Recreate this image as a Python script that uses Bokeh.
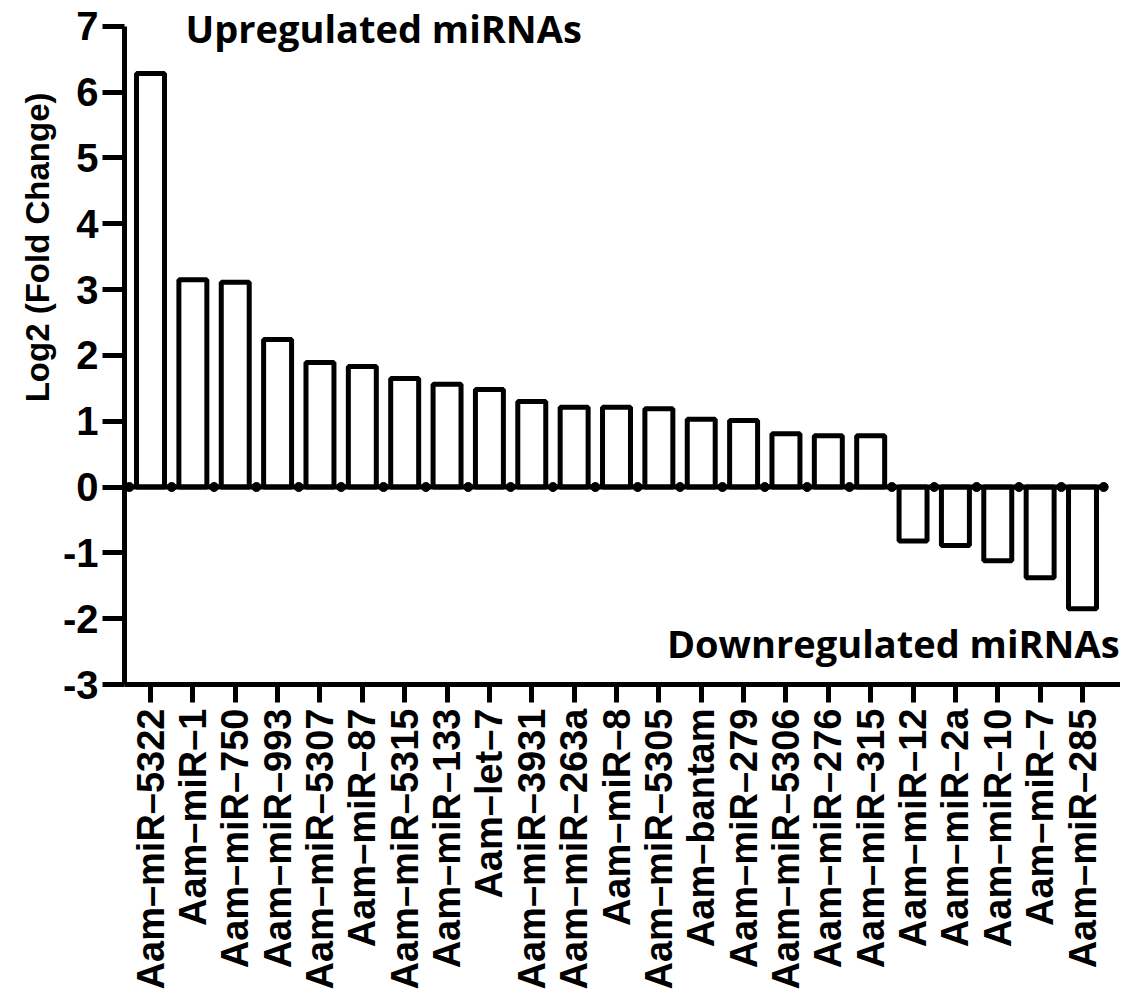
from bokeh.plotting import figure
from bokeh.models import Range1d, FixedTicker, Label, ColumnDataSource, Title
from bokeh.embed import file_html
from bokeh.resources import INLINE
import math

mirnas = ["Aam–miR–5322", "Aam–miR–1", "Aam–miR–750", "Aam–miR–993", "Aam–miR–5307",
          "Aam–miR–87", "Aam–miR–5315", "Aam–miR–133", "Aam–let–7", "Aam–miR–3931",
          "Aam–miR–263a", "Aam–miR–8", "Aam–miR–5305", "Aam–bantam", "Aam–miR–279",
          "Aam–miR–5306", "Aam–miR–276", "Aam–miR–315", "Aam–miR–12", "Aam–miR–2a",
          "Aam–miR–10", "Aam–miR–7", "Aam–miR–285"]
log2_fc = [6.28, 3.15, 3.11, 2.24, 1.89, 1.83, 1.65, 1.56, 1.48, 1.30,
           1.21, 1.21, 1.19, 1.03, 1.01, 0.81, 0.78, 0.78,
           -0.82, -0.89, -1.12, -1.38, -1.85]
y_ticks = [-3, -2, -1, 0, 1, 2, 3, 4, 5, 6, 7]

n = len(mirnas)
idx = list(range(n))

p = figure(width=1120, height=992, output_backend="svg", toolbar_location=None,
           x_range=Range1d(-0.614, 22.897), y_range=Range1d(-3, 7.39),
           min_border_left=124, min_border_right=0, min_border_top=0,
           min_border_bottom=306)
p.outline_line_color = None
p.grid.visible = False
p.background_fill_color = "white"

src = ColumnDataSource(dict(x=idx, top=log2_fc))
p.vbar(x="x", top="top", bottom=0, width=0.66, source=src,
       fill_color="white", line_color="black", line_width=5)

# baseline with dots at category boundaries
bx = [i - 0.5 for i in range(n + 1)]
by = [0] * (n + 1)
p.line(bx, by, line_color="black", line_width=5)
p.scatter(bx, by, size=9, fill_color="black", line_color="black")

font = "Liberation Sans"
ya = p.yaxis[0]
ya.bounds = (y_ticks[0], y_ticks[-1])
ya.ticker = FixedTicker(ticks=y_ticks)
ya.major_label_overrides = {t: str(t) for t in y_ticks}
ya.major_label_text_font = font
ya.major_label_text_font_style = "bold"
ya.major_label_text_font_size = "40px"
ya.major_label_text_color = "black"
ya.major_label_standoff = 4
ya.axis_line_width = 5
ya.major_tick_line_width = 5
ya.major_tick_out = 22
ya.major_tick_in = 0
ya.minor_tick_line_color = None

xa = p.xaxis[0]
xa.ticker = FixedTicker(ticks=idx)
xa.major_label_overrides = {i: m for i, m in zip(idx, mirnas)}
xa.major_label_orientation = math.pi / 2
xa.major_label_text_font = font
xa.major_label_text_font_style = "bold"
xa.major_label_text_font_size = "38px"
xa.major_label_text_color = "black"
xa.major_label_standoff = 6
xa.axis_line_width = 5
xa.major_tick_line_width = 5
xa.major_tick_out = 18
xa.major_tick_in = 0
xa.minor_tick_line_color = None

ylab = Title(text="Log2 (Fold Change)", align="right", offset=92,
             vertical_align="top",
             text_font=font, text_font_style="bold", text_font_size="33px",
             text_color="black", standoff=4)
p.add_layout(ylab, "left")

up = Label(x=0.826, y=6.97, text="Upregulated miRNAs", text_font="Open Sans",
           text_font_style="bold", text_font_size="38px", text_baseline="alphabetic",
           text_align="left", text_color="black")
down = Label(x=22.876, y=-2.37, text="Downregulated miRNAs", text_font="Open Sans",
             text_font_style="bold", text_font_size="38px", text_baseline="alphabetic",
             text_align="right", text_color="black")
p.add_layout(up)
p.add_layout(down)

open("out.html", "w").write(file_html(p, INLINE))
